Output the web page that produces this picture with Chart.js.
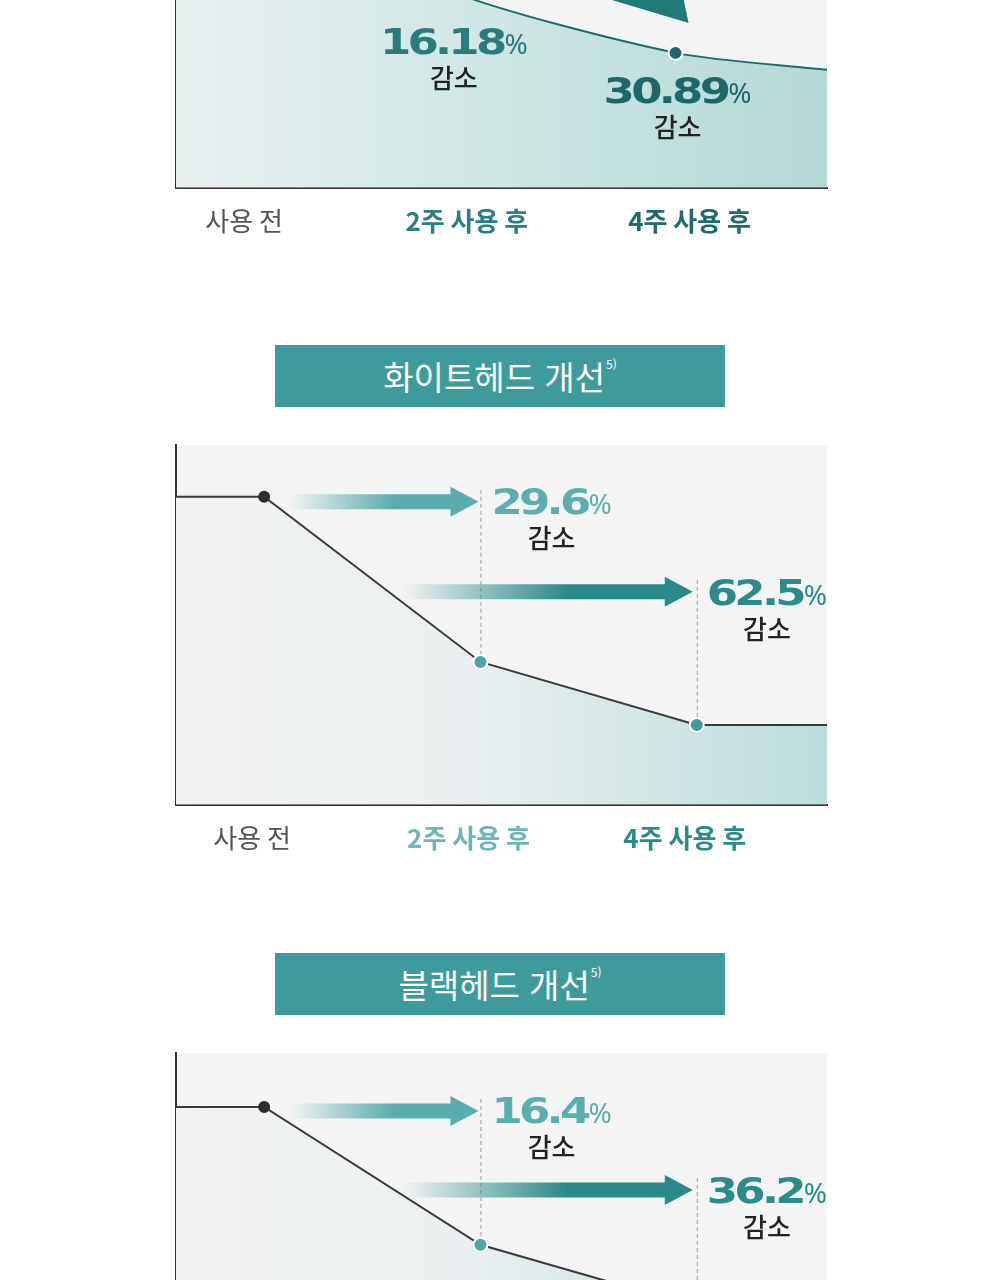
<!DOCTYPE html>
<html lang="ko">
<head>
<meta charset="utf-8">
<script src="https://cdn.jsdelivr.net/npm/chart.js@4.4.1/dist/chart.umd.min.js"></script>
<style>
  html, body { margin: 0; padding: 0; background: #fff; }
  body { width: 1000px; height: 1280px; position: relative; overflow: hidden; font-family: 'Noto Sans CJK KR', sans-serif; }
  canvas.chart { position: absolute; left: 0; }
  .title { position: absolute; left: 275px; width: 450px; height: 62px; background: #3f9b9b; color: #fff;
           font-size: 33px; font-weight: 400; line-height: 62px; text-align: center; }
  .title sup { font-size: 12px; font-weight: 400; vertical-align: top; position: relative; top: -12px; margin-left: 1px; }
</style>
</head>
<body>
<canvas id="firstChart" class="chart" width="1000" height="450" style="top:-192px"></canvas>
<div class="title" style="top:345px">화이트헤드 개선<sup>5)</sup></div>
<canvas id="whiteChart" class="chart" width="1000" height="450" style="top:425px"></canvas>
<div class="title" style="top:953px">블랙헤드 개선<sup>5)</sup></div>
<canvas id="blackChart" class="chart" width="1000" height="450" style="top:1033px"></canvas>
<script>
const stageLabels = ['사용 전', '2주 사용 후', '4주 사용 후'];
const stageWeeks = [0, 2, 4];

// 위쪽 차트 (화면 위로 잘림)
const firstValues = [85, 54.4, 37.5];
const firstTail = 32.8;
const firstDrops = ['16.18', '30.89'];

// 화이트헤드 개선
const whiteValues = [85.6, 39.7, 22.2];
const whiteDrops = ['29.6', '62.5'];

// 블랙헤드 개선
const blackValues = [85, 46.7, 29.4];
const blackDrops = ['16.4', '36.2'];

const plotBg = {
  id: 'plotBg',
  beforeDraw: (chart) => {
    const a = chart.chartArea;
    const ctx = chart.ctx;
    ctx.save();
    ctx.fillStyle = '#f4f4f4';
    ctx.fillRect(a.left, a.top, a.right - a.left, a.bottom - a.top);
    ctx.restore();
  }
};

const NUM_FONT = 'bold 36px "DejaVu Sans"';
const NUM_SX = 1.25;
const NUM_LS = '-3px';

const numWidth = (ctx, txt) => {
  ctx.save();
  ctx.font = NUM_FONT;
  ctx.letterSpacing = NUM_LS;
  const w = ctx.measureText(txt).width * NUM_SX;
  ctx.restore();
  return w;
};

// 숫자 + % + 감소
const drawDrop = (ctx, num, left, base, color, centered) => {
  ctx.save();
  ctx.textBaseline = 'alphabetic';
  ctx.textAlign = 'left';
  const wNum = numWidth(ctx, num);
  ctx.font = '28px "Noto Sans"';
  const wPct = ctx.measureText('%').width;
  const total = wNum + 1 + wPct;
  const x0 = centered ? left - total / 2 : left;
  ctx.fillStyle = color;
  ctx.save();
  ctx.font = NUM_FONT;
  ctx.letterSpacing = NUM_LS;
  ctx.translate(x0, base);
  ctx.scale(NUM_SX, 1);
  ctx.fillText(num, 0, 0);
  ctx.restore();
  ctx.font = '28px "Noto Sans"';
  ctx.fillText('%', x0 + wNum + 1, base);
  ctx.fillStyle = '#222';
  ctx.font = '500 26px "Noto Sans CJK KR"';
  ctx.textAlign = 'center';
  ctx.fillText('감소', x0 + total / 2, base + 34);
  ctx.restore();
};

const drawArrow = (ctx, x0, x1, y, rgb, solidLen) => {
  const g = ctx.createLinearGradient(x0, 0, x0 + solidLen, 0);
  g.addColorStop(0, `rgba(${rgb},0)`);
  g.addColorStop(1, `rgba(${rgb},1)`);
  ctx.save();
  ctx.fillStyle = g;
  ctx.beginPath();
  ctx.moveTo(x0, y - 7.5);
  ctx.lineTo(x1 - 28, y - 7.5);
  ctx.lineTo(x1 - 28, y - 15);
  ctx.lineTo(x1, y);
  ctx.lineTo(x1 - 28, y + 15);
  ctx.lineTo(x1 - 28, y + 7.5);
  ctx.lineTo(x0, y + 7.5);
  ctx.closePath();
  ctx.fill();
  ctx.restore();
};

const pointPx = (chart, o, i) => ({
  x: chart.scales.x.getPixelForValue(stageWeeks[i]),
  y: chart.scales.y.getPixelForValue(o.values[i])
});

const guides = {
  id: 'guides',
  beforeDatasetsDraw: (chart, args, o) => {
    if (o.mode !== 'arrows') return;
    const ctx = chart.ctx;
    const p0 = pointPx(chart, o, 0);
    const rows = [p0.y + o.arrowDy[0], p0.y + o.arrowDy[1]];
    ctx.save();
    ctx.strokeStyle = '#9a9a9a';
    ctx.lineWidth = 1;
    ctx.setLineDash([4, 3]);
    [1, 2].forEach((i) => {
      const p = pointPx(chart, o, i);
      ctx.beginPath();
      ctx.moveTo(p.x + 0.5, rows[i - 1] - 12);
      ctx.lineTo(p.x + 0.5, p.y);
      ctx.stroke();
    });
    ctx.restore();
  },
  afterDatasetsDraw: (chart, args, o) => {
    const ctx = chart.ctx;
    if (o.mode === 'arrows') {
      const p0 = pointPx(chart, o, 0);
      const p1 = pointPx(chart, o, 1);
      const p2 = pointPx(chart, o, 2);
      const r1 = p0.y + o.arrowDy[0];
      const r2 = p0.y + o.arrowDy[1];
      drawArrow(ctx, p0.x + 25, p1.x - 2, r1, '90,173,173', 105);
      drawArrow(ctx, p1.x - 78, p2.x - 4, r2, '42,138,135', 165);
      drawDrop(ctx, o.drops[0], p1.x + 11, r1 + 12, '#5aaead', false);
      drawDrop(ctx, o.drops[1], p2.x + 10, r2 + 13, '#2b8b88', false);
    } else {
      const p1 = pointPx(chart, o, 1);
      const p2 = pointPx(chart, o, 2);
      // 위에서 내려오는 큰 화살표 끝부분
      ctx.save();
      ctx.fillStyle = '#1f7a78';
      ctx.beginPath();
      ctx.moveTo(p2.x - 130, p2.y - 73);
      ctx.lineTo(p2.x + 4, p2.y - 73);
      ctx.lineTo(p2.x + 13, p2.y - 30);
      ctx.closePath();
      ctx.fill();
      ctx.restore();
      drawDrop(ctx, o.drops[0], p1.x + 1, p1.y + o.labelDy[0], '#2a7b7c', true);
      drawDrop(ctx, o.drops[1], p2.x + 2, p2.y + o.labelDy[1], '#1e6769', true);
    }
  }
};

const makeChart = (id, o) => {
  const pts = stageWeeks.map((w, i) => ({ x: w, y: o.values[i] }));
  const data = [{ x: o.xMin, y: o.values[0] }, ...pts, { x: o.xMax, y: o.tail }];
  return new Chart(document.getElementById(id), {
    type: 'line',
    data: {
      datasets: [{
        data: data,
        borderColor: o.lineColor,
        borderWidth: 2,
        tension: o.tension,
        fill: 'origin',
        backgroundColor: (c) => {
          const a = c.chart.chartArea;
          if (!a) return 'transparent';
          const g = c.chart.ctx.createLinearGradient(a.left, 0, a.right, 0);
          o.fillStops.forEach(([p, col]) => g.addColorStop(p, col));
          return g;
        },
        pointRadius: o.pointRadius,
        pointBackgroundColor: o.pointColors,
        pointBorderColor: o.pointBorders,
        pointBorderWidth: 2,
        clip: false
      }]
    },
    options: {
      responsive: false,
      animation: false,
      layout: { padding: { left: 176, right: 173, top: 20, bottom: 3 } },
      plugins: { legend: { display: false }, tooltip: { enabled: false }, guides: o },
      scales: {
        x: {
          type: 'linear', min: o.xMin, max: o.xMax, bounds: 'data', z: 1,
          afterBuildTicks: (ax) => { ax.ticks = stageWeeks.map((v) => ({ value: v })); },
          grid: { display: false, drawTicks: false },
          border: { display: true, color: '#333', width: 2 },
          ticks: {
            padding: 18, labelOffset: o.labelOffset, autoSkip: false, maxRotation: 0,
            callback: (v) => stageLabels[stageWeeks.indexOf(v)],
            color: (c) => o.tickColors[c.index],
            font: (c) => ({ family: 'Noto Sans CJK KR', size: 26, weight: c.index === 0 ? 'normal' : 'bold' })
          }
        },
        y: {
          min: 0, max: 100, z: 1,
          ticks: { display: false },
          grid: { display: false, drawTicks: false },
          border: { display: true, color: '#333', width: 2 }
        }
      }
    },
    plugins: [plotBg, guides]
  });
};

makeChart('firstChart', {
  mode: 'below', values: firstValues, tail: firstTail, drops: firstDrops,
  xMin: -0.486, xMax: 5.36, tension: 0.25, labelOffset: 14, labelDy: [62, 50],
  lineColor: '#1f6a6c',
  pointRadius: [0, 5, 7, 7, 0],
  pointColors: ['#333', '#333', '#1f6a6c', '#1d6769', '#1d6769'],
  pointBorders: ['#333', '#333', '#ffffff', '#ffffff', '#ffffff'],
  tickColors: ['#555555', '#2c7f80', '#1f6a6c'],
  fillStops: [[0, '#e9f0f0'], [0.4, '#d3e8e7'], [1, '#b3d9d6']]
});

makeChart('whiteChart', {
  mode: 'arrows', values: whiteValues, tail: whiteValues[2], drops: whiteDrops,
  xMin: -0.815, xMax: 5.204, tension: 0, labelOffset: -12, arrowDy: [5, 95],
  lineColor: '#3a3a3a',
  pointRadius: [0, 5, 7, 7, 0],
  pointColors: ['#2d2d2d', '#2d2d2d', '#4fa4a5', '#3f9c9c', '#3f9c9c'],
  pointBorders: ['#2d2d2d', '#2d2d2d', '#ffffff', '#ffffff', '#ffffff'],
  tickColors: ['#555555', '#6cb6b6', '#2b8a88'],
  fillStops: [[0, '#f1f2f2'], [0.45, '#e9eff0'], [1, '#bcdcdb']]
});

makeChart('blackChart', {
  mode: 'arrows', values: blackValues, tail: blackValues[2], drops: blackDrops,
  xMin: -0.815, xMax: 5.204, tension: 0, labelOffset: -12, arrowDy: [4, 83],
  lineColor: '#3a3a3a',
  pointRadius: [0, 5, 7, 7, 0],
  pointColors: ['#2d2d2d', '#2d2d2d', '#4fa4a5', '#3f9c9c', '#3f9c9c'],
  pointBorders: ['#2d2d2d', '#2d2d2d', '#ffffff', '#ffffff', '#ffffff'],
  tickColors: ['#555555', '#6cb6b6', '#2b8a88'],
  fillStops: [[0, '#f1f2f2'], [0.45, '#e9eff0'], [1, '#bcdcdb']]
});
</script>
</body>
</html>
